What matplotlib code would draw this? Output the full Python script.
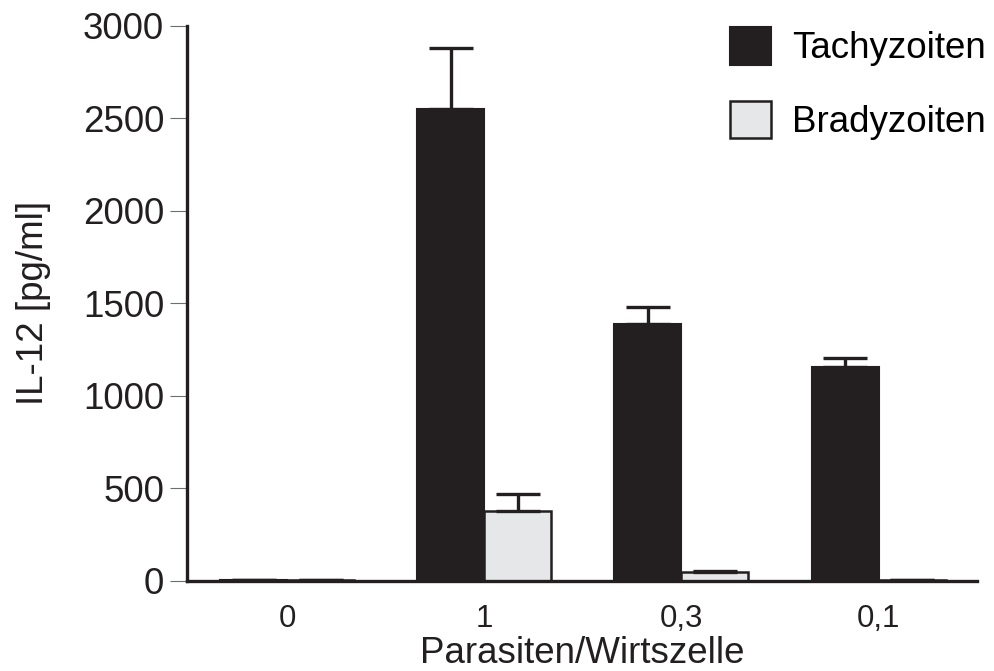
import numpy as np
import matplotlib.pyplot as plt

plt.rcParams['font.family'] = ['Liberation Sans', 'DejaVu Sans']

# IL-12 release per parasite/host-cell ratio
ratios = ['0', '1', '0,3', '0,1']
tachy = [3, 2548, 1386, 1157]
tachy_err = [2, 333, 92, 47]
brady = [3, 377, 45, 3]
brady_err = [2, 92, 9, 2]

dark = '#231f20'
light = '#e6e7e8'

fig = plt.figure(figsize=(9.95, 6.71), dpi=100)
ax = fig.add_axes([0.188, 0.1346, 0.794, 0.827])

x = np.arange(len(ratios))
w = 0.34

err_style = dict(ecolor=dark, elinewidth=2.4, capsize=16, capthick=2.4)

ax.bar(x - w / 2, tachy, w, color=dark, edgecolor=dark, linewidth=1.5,
       label='Tachyzoiten')
ax.errorbar(x - w / 2, tachy, yerr=[np.zeros(len(tachy)), tachy_err],
            fmt='none', **err_style)
ax.bar(x + w / 2, brady, w, color=light, edgecolor=dark, linewidth=1.8,
       label='Bradyzoiten')
ax.errorbar(x + w / 2, brady, yerr=[np.zeros(len(brady)), brady_err],
            fmt='none', **err_style)

ax.set_xlim(-0.508, 3.5)
ax.set_ylim(0, 3000)
ax.set_yticks(np.arange(0, 3001, 500))
ax.set_xticks(x)
ax.set_xticklabels(ratios)

for side in ['top', 'right']:
    ax.spines[side].set_visible(False)
for side in ['left', 'bottom']:
    ax.spines[side].set_linewidth(2.4)
    ax.spines[side].set_color(dark)

ax.tick_params(axis='y', length=12, width=0.8, color='#6d6e70',
               labelsize=26.5, pad=4.5, labelcolor=dark)
ax.tick_params(axis='x', length=0, labelsize=22.5, pad=16.5, labelcolor=dark)

ax.set_xlabel('Parasiten/Wirtszelle', fontsize=26.5, color=dark, labelpad=2)
ax.set_ylabel('IL-12 [pg/ml]', fontsize=26.5, color=dark, labelpad=23)

ax.legend(loc='upper right', bbox_to_anchor=(1.03, 1.024), frameon=False,
          fontsize=26.5, handlelength=1.11, handleheight=1.2,
          handletextpad=0.57, labelspacing=0.93, borderaxespad=0)

fig.savefig('out.png', dpi=100)
